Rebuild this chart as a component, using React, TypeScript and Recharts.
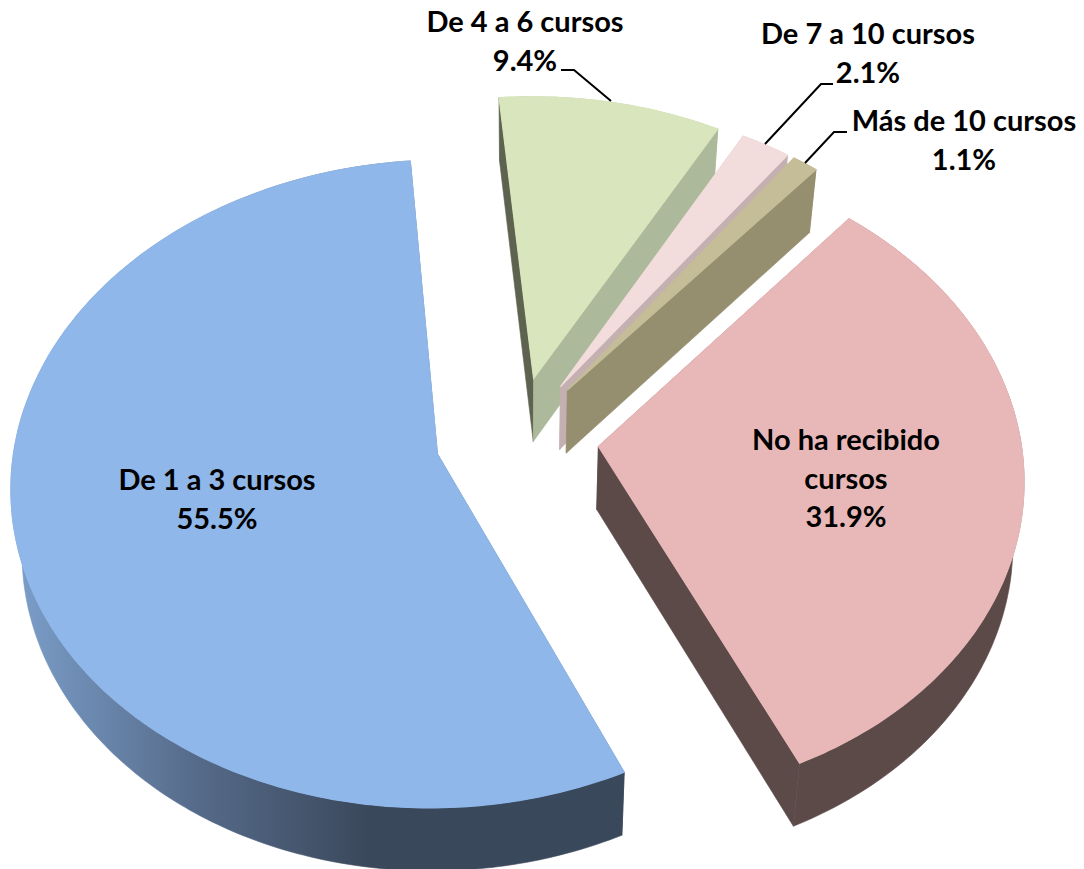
import { PieChart, Pie } from "recharts";

const categories = ["De 1 a 3 cursos", "De 4 a 6 cursos", "De 7 a 10 cursos", "Más de 10 cursos", "No ha recibido cursos"];
const values = [55.5, 9.4, 2.1, 1.1, 31.9];

const topColors = ["#8FB7E9", "#D9E5BC", "#F2DCDC", "#C4BD97", "#E8B8B8"];
const startWalls = ["#3A485B", "#5E6350", "#C4B0B0", "#C4B0B0", "#5C4A49"];
const endWalls = ["#3A485B", "#ACB99A", "#C4B0B0", "#958F70", "#5C4A49"];
const rimColors = ["url(#blueRim)", "#ACB99A", "#C4B0B0", "#958F70", "#5C4A49"];

// label lines are split so the wrapped text stays as in the original
const labelLines = [["De 1 a 3 cursos"], ["De 4 a 6 cursos"], ["De 7 a 10 cursos"], ["Más de 10 cursos"], ["No ha recibido", "cursos"]];
const labelAnchors = [
  [217, 490],
  [525, 32],
  [868, 44],
  [964, 131],
  [846, 450],
];
const leaders = [
  null,
  "M611 101 L574 70 L561 70",
  "M765 144 L821 84 L833 84",
  "M805 163 L834 132 L847 132",
  null,
];

const data = categories.map((name, i) => ({ name, value: values[i] }));

const EXPLODE = 82;
const TILT = 0.754;
const FOCAL = 4580;
const DEPTH = 63;
const BOTTOM_SHRINK = 0.978;

type Pt = [number, number];

function project(cx: number, cy: number, X: number, Z: number): Pt {
  const s = FOCAL / (FOCAL + Z);
  return [cx + X * s, cy - Z * TILT * s];
}

function toPath(pts: Pt[]) {
  return "M" + pts.map((p) => p[0].toFixed(1) + " " + p[1].toFixed(1)).join("L") + "Z";
}

function Slice3D(props: any) {
  const { cx, cy, outerRadius, startAngle, endAngle, index } = props;
  // recharts angles run counter clockwise from 3 o'clock, here clockwise from north
  const a0 = ((90 - startAngle) * Math.PI) / 180;
  const a1 = ((90 - endAngle) * Math.PI) / 180;
  const mid = (a0 + a1) / 2;
  const ox = EXPLODE * Math.sin(mid);
  const oz = EXPLODE * Math.cos(mid);

  const steps = Math.max(4, Math.ceil(Math.abs(a1 - a0) / 0.015));
  const rim: Pt[] = [];
  for (let i = 0; i <= steps; i++) {
    const a = a0 + ((a1 - a0) * i) / steps;
    rim.push(project(cx, cy, ox + outerRadius * Math.sin(a), oz + outerRadius * Math.cos(a)));
  }
  const apex = project(cx, cy, ox, oz);
  const down = (p: Pt): Pt => [cx + (p[0] - cx) * BOTTOM_SHRINK, p[1] + DEPTH];

  const first = rim[0];
  const last = rim[rim.length - 1];
  const rimBottom = rim.map(down).reverse();

  return (
    <g>
      <path d={toPath([...rim, ...rimBottom])} fill={rimColors[index]} stroke={rimColors[index]} strokeWidth={0.6} />
      <path d={toPath([apex, first, down(first), down(apex)])} fill={startWalls[index]} stroke={startWalls[index]} strokeWidth={0.6} />
      <path d={toPath([apex, last, down(last), down(apex)])} fill={endWalls[index]} stroke={endWalls[index]} strokeWidth={0.6} />
      <path d={toPath([apex, ...rim])} fill={topColors[index]} stroke={topColors[index]} strokeWidth={1.2} />
    </g>
  );
}

function SliceLabel(props: any) {
  const { index, value } = props;
  const [x, y] = labelAnchors[index];
  const lines = [...labelLines[index], value.toFixed(1) + "%"];
  return (
    <g>
      {leaders[index] && <path d={leaders[index] as string} fill="none" stroke="#000" strokeWidth={2} />}
      <text x={x} y={y} textAnchor="middle" fontFamily="Lato" fontWeight={700} fontSize={29} fill="#000">
        {lines.map((t, i) => (
          <tspan key={i} x={x} dy={i === 0 ? 0 : 38.5}>
            {t}
          </tspan>
        ))}
      </text>
    </g>
  );
}

export default function App() {
  return (
    <div style={{ position: "absolute", left: 0, top: 0, width: 1084, height: 869, background: "#fff" }}>
      <PieChart width={1084} height={869} margin={{ top: 0, right: 0, bottom: 0, left: 0 }}>
        <defs>
          <linearGradient id="blueRim" gradientUnits="userSpaceOnUse" x1="20" y1="0" x2="370" y2="0">
            <stop offset="0" stopColor="#7A9DC8" />
            <stop offset="0.5" stopColor="#566B8A" />
            <stop offset="1" stopColor="#3A485B" />
          </linearGradient>
        </defs>
        <Pie
          data={data}
          dataKey="value"
          nameKey="name"
          cx={517}
          cy={438}
          innerRadius={0}
          outerRadius={422}
          startAngle={-65.2}
          endAngle={-425.2}
          stroke="none"
          shape={Slice3D}
          label={SliceLabel}
          labelLine={false}
          isAnimationActive={false}
        />
      </PieChart>
    </div>
  );
}
